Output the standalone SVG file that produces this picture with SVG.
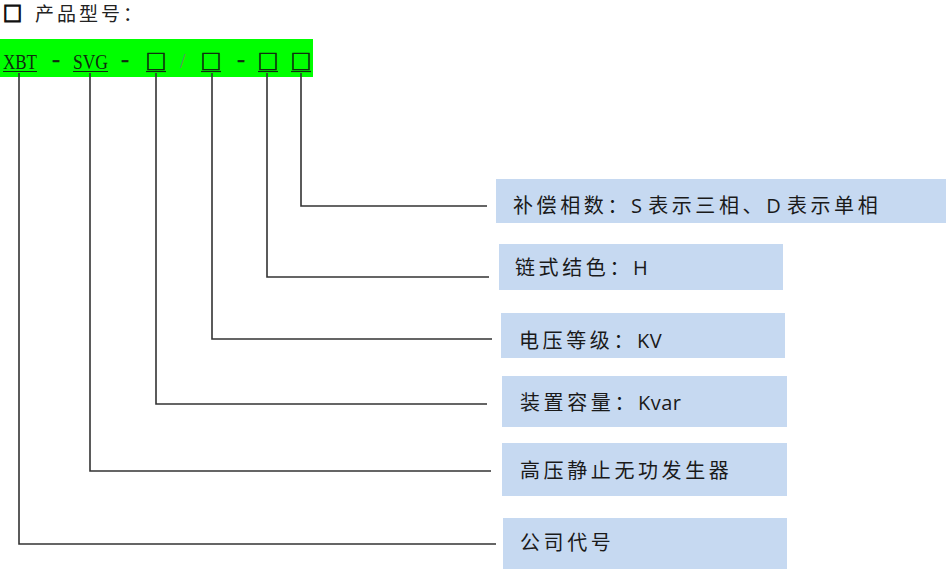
<svg xmlns="http://www.w3.org/2000/svg" width="950" height="579" viewBox="0 0 950 579">
<style>
.box{fill:#C6D9F1;}
.lbl{font-family:"Noto Sans CJK SC","Noto Sans",sans-serif;font-size:20px;letter-spacing:3.6px;fill:#1a1a1a;}
.lat{letter-spacing:0.5px;font-family:"Open Sans","Noto Sans",sans-serif;}
.code{font-family:"Liberation Serif",serif;font-size:20px;fill:#102a10;}
.dash{font-family:"Liberation Serif",serif;font-size:24px;fill:#102a10;stroke:#102a10;stroke-width:0.4;}
.sq{font-family:"Noto Sans CJK SC",sans-serif;font-size:21px;fill:#102a10;stroke:#102a10;stroke-width:0.6;text-anchor:middle;}
.ul{stroke:#102a10;stroke-width:1.2;}
.conn{fill:none;stroke:#333;stroke-width:1.6;}
</style>
<rect width="950" height="579" fill="#ffffff"/>
<g id="title">
<text x="3" y="21" style="font-family:'Noto Sans CJK SC',sans-serif;font-size:19px;fill:#111;stroke:#111;stroke-width:1.4;">□</text>
<text x="35" y="21" style="font-family:'Noto Sans CJK SC',sans-serif;font-size:19px;letter-spacing:3px;fill:#222;">产品型号：</text>
</g>
<g id="model-code">
<rect x="0" y="39" width="313" height="38" fill="#00FF00"/>
<text class="code" x="3" y="68.5" textLength="34" lengthAdjust="spacingAndGlyphs">XBT</text>
<text class="dash" x="52" y="67">-</text>
<text class="code" x="73" y="68.5" textLength="35" lengthAdjust="spacingAndGlyphs">SVG</text>
<text class="dash" x="121" y="67">-</text>
<text class="sq" x="156" y="69">□</text>
<text class="code" x="180" y="68" style="fill:#6a8a6a;">/</text>
<text class="sq" x="211" y="69">□</text>
<text class="dash" x="237" y="67">-</text>
<text class="sq" x="268" y="69">□</text>
<text class="sq" x="301" y="69">□</text>
<line class="ul" x1="3" y1="71.5" x2="37" y2="71.5"/>
<line class="ul" x1="73" y1="71.5" x2="108" y2="71.5"/>
<line class="ul" x1="146" y1="71.5" x2="166" y2="71.5"/>
<line class="ul" x1="201" y1="71.5" x2="221" y2="71.5"/>
<line class="ul" x1="258" y1="71.5" x2="278" y2="71.5"/>
<line class="ul" x1="291" y1="71.5" x2="311" y2="71.5"/>
</g>
<g id="connectors">
<polyline class="conn" points="19,73 19,544 496,544"/>
<polyline class="conn" points="90,73 90,471 491,471"/>
<polyline class="conn" points="156,73 156,404 487,404"/>
<polyline class="conn" points="212,73 212,339 492,339"/>
<polyline class="conn" points="267,73 267,277 489,277"/>
<polyline class="conn" points="301,73 301,206 487,206"/>
</g>
<g id="node-phase">
<rect class="box" x="496" y="179" width="450" height="44"/>
<text class="lbl" x="513" y="213">补偿相数：<tspan class="lat">S </tspan>表示三相、<tspan class="lat">D </tspan>表示单相</text>
</g>
<g id="node-chain">
<rect class="box" x="499" y="244" width="284" height="46"/>
<text class="lbl" x="515" y="275">链式结色：<tspan class="lat">H</tspan></text>
</g>
<g id="node-voltage">
<rect class="box" x="501" y="313" width="284" height="45"/>
<text class="lbl" x="519" y="348">电压等级：<tspan class="lat">KV</tspan></text>
</g>
<g id="node-capacity">
<rect class="box" x="502" y="376" width="285" height="51"/>
<text class="lbl" x="520" y="410">装置容量：<tspan class="lat">Kvar</tspan></text>
</g>
<g id="node-svg">
<rect class="box" x="502" y="443" width="285" height="53"/>
<text class="lbl" x="520" y="478">高压静止无功发生器</text>
</g>
<g id="node-company">
<rect class="box" x="503" y="518" width="284" height="51"/>
<text class="lbl" x="520" y="550">公司代号</text>
</g>
</svg>
